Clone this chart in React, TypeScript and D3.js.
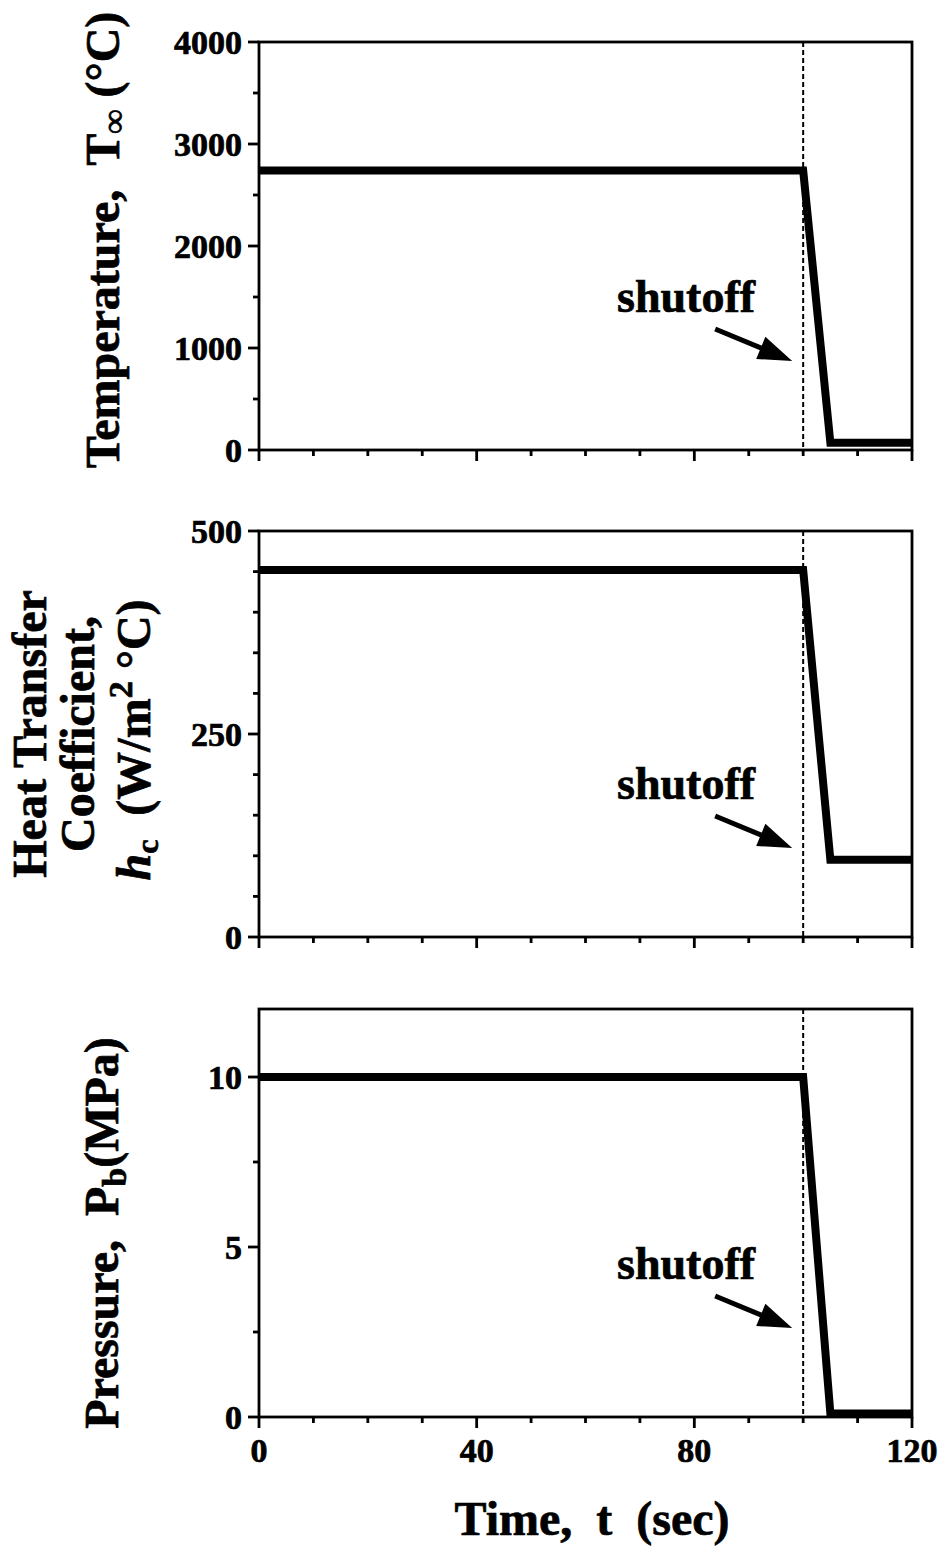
import React from "react";
import * as d3 from "d3";

// Time history of the boundary conditions (firing then shutoff at t = 100 s)
const timeSec = [0, 100, 105, 120];
const temperatureC = [2740, 2740, 70, 70];
const heatCoeff = [452, 452, 95, 95];
const pressureMPa = [10, 10, 0.1, 0.1];

const shutoffTime = 100;

const xTickMajor = [0, 40, 80, 120];
const xTickMinor = [10, 20, 30, 50, 60, 70, 90, 100, 110];

const tempTicks = [0, 1000, 2000, 3000, 4000];
const tempMinor = [500, 1500, 2500, 3500];
const hcTicks = [0, 250, 500];
const hcMinor = [50, 100, 150, 200, 300, 350, 400, 450];
const presTicks = [0, 5, 10];
const presMinor = [2.5, 7.5];

const W = 946;
const H = 1553;
const X0 = 259;
const X1 = 912;
const FONT = "'Liberation Serif', 'Times New Roman', Times, serif";
// heavier strokes on the lettering to thicken the bold serif face
const textWeight = { stroke: "#000", strokeWidth: 0.7 };

const x = d3.scaleLinear().domain([0, 120]).range([X0, X1]);

type PanelProps = {
  top: number;
  bottom: number;
  domain: [number, number];
  values: number[];
  major: number[];
  minor: number[];
  showXLabels?: boolean;
};

function Panel({ top, bottom, domain, values, major, minor, showXLabels }: PanelProps) {
  const y = d3.scaleLinear().domain(domain).range([bottom, top]);
  const pts: [number, number][] = timeSec.map((t, i) => [t, values[i]]);
  const line = d3
    .line<[number, number]>()
    .x((d) => x(d[0]))
    .y((d) => y(d[1]));
  const xs = x(shutoffTime);
  // arrow pointing at the shutoff line
  const tip: [number, number] = [xs - 11, bottom - 89];
  const tail: [number, number] = [xs - 88, bottom - 121];
  const dx = tip[0] - tail[0];
  const dy = tip[1] - tail[1];
  const len = Math.hypot(dx, dy);
  const ux = dx / len;
  const uy = dy / len;
  const headLen = 34;
  const headHalf = 12;
  const bx = tip[0] - ux * headLen;
  const by = tip[1] - uy * headLen;
  const head = `M${tip[0]},${tip[1]} L${bx - uy * headHalf},${by + ux * headHalf} L${bx + uy * headHalf},${by - ux * headHalf} Z`;

  return (
    <g>
      {/* frame */}
      <rect x={X0} y={top} width={X1 - X0} height={bottom - top} fill="none" stroke="#000" strokeWidth={2.8} />
      {/* y ticks */}
      {major.map((v) => (
        <g key={"ym" + v}>
          <line x1={X0 - 11} x2={X0} y1={y(v)} y2={y(v)} stroke="#000" strokeWidth={2.8} />
          <text
            x={X0 - 17}
            y={y(v)}
            dy="0.34em"
            textAnchor="end"
            fontFamily={FONT}
            fontWeight="bold"
            fontSize={34}
            {...textWeight}
          >
            {v}
          </text>
        </g>
      ))}
      {minor.map((v) => (
        <line key={"yn" + v} x1={X0 - 6} x2={X0} y1={y(v)} y2={y(v)} stroke="#000" strokeWidth={2.8} />
      ))}
      {/* x ticks */}
      {xTickMajor.map((t) => (
        <g key={"xm" + t}>
          <line x1={x(t)} x2={x(t)} y1={bottom} y2={bottom + 11} stroke="#000" strokeWidth={2.8} />
          {showXLabels && (
            <text
              x={x(t)}
              y={bottom + 45}
              textAnchor="middle"
              fontFamily={FONT}
              fontWeight="bold"
              fontSize={34}
              {...textWeight}
            >
              {t}
            </text>
          )}
        </g>
      ))}
      {xTickMinor.map((t) => (
        <line key={"xn" + t} x1={x(t)} x2={x(t)} y1={bottom} y2={bottom + 6} stroke="#000" strokeWidth={2.8} />
      ))}
      {/* shutoff marker */}
      <line x1={xs} x2={xs} y1={top} y2={bottom} stroke="#000" strokeWidth={2} strokeDasharray="5,3" />
      {/* data */}
      <path d={line(pts) || ""} fill="none" stroke="#000" strokeWidth={8} strokeLinejoin="miter" />
      {/* annotation */}
      <text x={617} y={bottom - 138} fontFamily={FONT} fontWeight="bold" fontSize={46} {...textWeight}>
        shutoff
      </text>
      <line x1={tail[0]} y1={tail[1]} x2={bx + ux * 4} y2={by + uy * 4} stroke="#000" strokeWidth={5} />
      <path d={head} fill="#000" />
    </g>
  );
}

export default function App() {
  return (
    <svg
      width={W}
      height={H}
      viewBox={`0 0 ${W} ${H}`}
      style={{ position: "absolute", left: 0, top: 0, background: "#fff" }}
    >
      <rect x={0} y={0} width={W} height={H} fill="#fff" />
      <Panel top={42} bottom={450} domain={[0, 4000]} values={temperatureC} major={tempTicks} minor={tempMinor} />
      <Panel top={531} bottom={937} domain={[0, 500]} values={heatCoeff} major={hcTicks} minor={hcMinor} />
      <Panel
        top={1009}
        bottom={1417}
        domain={[0, 12]}
        values={pressureMPa}
        major={presTicks}
        minor={presMinor}
        showXLabels
      />

      {/* y-axis titles */}
      <text
        transform="translate(119,240) rotate(-90)"
        textAnchor="middle"
        fontFamily={FONT}
        fontWeight="bold"
        fontSize={48}
        {...textWeight}
      >
        <tspan>Temperature,{"\u00a0\u00a0"}T</tspan>
        <tspan fontSize={34} dy={6}>∞</tspan>
        <tspan dy={-6}>{"\u00a0"}(°C)</tspan>
      </text>

      <g fontFamily={FONT} fontWeight="bold" fontSize={48} {...textWeight}>
        <text transform="translate(46,734) rotate(-90)" textAnchor="middle">
          Heat Transfer
        </text>
        <text transform="translate(94,734) rotate(-90)" textAnchor="middle">
          Coefficient,
        </text>
        <text transform="translate(150,740) rotate(-90)" textAnchor="middle">
          <tspan fontStyle="italic">h</tspan>
          <tspan fontSize={32} dy={8}>c</tspan>
          <tspan dy={-8}>{"\u00a0\u00a0"}(W/m</tspan>
          <tspan fontSize={34} dy={-18}>2</tspan>
          <tspan dy={18}>{"\u00a0"}°C)</tspan>
        </text>
      </g>

      <text
        transform="translate(118,1233) rotate(-90)"
        textAnchor="middle"
        fontFamily={FONT}
        fontWeight="bold"
        fontSize={48}
        {...textWeight}
      >
        <tspan>Pressure,{"\u00a0\u00a0"}P</tspan>
        <tspan fontSize={34} dy={8}>b</tspan>
        <tspan dy={-8}>(MPa)</tspan>
      </text>

      {/* x-axis title */}
      <text
        x={592}
        y={1535}
        textAnchor="middle"
        fontFamily={FONT}
        fontWeight="bold"
        fontSize={48}
        {...textWeight}
      >
        Time,{"\u00a0\u00a0"}t{"\u00a0\u00a0"}(sec)
      </text>
    </svg>
  );
}
